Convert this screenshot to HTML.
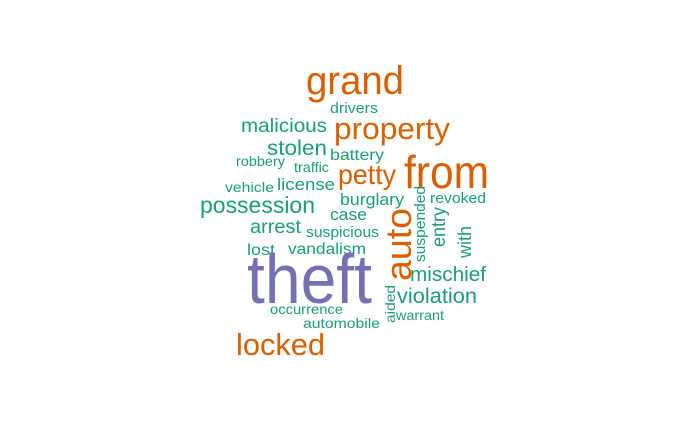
<!DOCTYPE html>
<html><head><meta charset="utf-8"><style>
html,body{margin:0;padding:0;background:#fff;}
svg{display:block;font-family:"Liberation Sans",Arial,sans-serif;}
</style></head><body>
<svg width="700" height="432" viewBox="0 0 700 432">
<g id="words"></g>
</svg>
<script>
const words=["grand","drivers","malicious","property","stolen","battery","robbery","traffic","petty","from","vehicle","license","possession","burglary","revoked","case","arrest","suspicious","lost","vandalism","theft","mischief","violation","occurrence","warrant","automobile","locked","suspended","entry","auto","with","aided"];
const sizes=[40,15,19,31,21,16,14,14,28,46,14,17,23,17,15,17,19,15,16,16,70,20,21,14,14,14,31,15,19,36,18,14];
const colors=["#D95F02","#1B9E77","#1B9E77","#D95F02","#1B9E77","#1B9E77","#1B9E77","#1B9E77","#D95F02","#D95F02","#1B9E77","#1B9E77","#1B9E77","#1B9E77","#1B9E77","#1B9E77","#1B9E77","#1B9E77","#1B9E77","#1B9E77","#7570B3","#1B9E77","#1B9E77","#1B9E77","#1B9E77","#1B9E77","#D95F02","#1B9E77","#1B9E77","#D95F02","#1B9E77","#1B9E77"];
// layout: [x, y, length, rotated]
const layout=[[306,94,98,0],[330,113,48,0],[241,132,86,0],[334,139,116,0],[267,155,60,0],[330,160,54,0],[236,166,49,0],[294,172,35,0],[338,184,58,0],[404,188,85,0],[225,192,49,0],[277,190,58,0],[200,213,115,0],[340,205,64,0],[430,203,56,0],[330,220,37,0],[250,233,51,0],[306,237,73,0],[247,255,28,0],[288,254,78,0],[247,303,125,0],[410,281,76,0],[397,303,80,0],[270,314,73,0],[396,320,48,0],[303,328,77,0],[236,355,89,0],[425,262,76,1],[445,247,40,1],[411,281,73,1],[471,258,32,1],[395,323,38,1]];
const g=document.getElementById('words');
words.forEach((w,i)=>{
  const t=document.createElementNS('http://www.w3.org/2000/svg','text');
  const [x,y,len,rot]=layout[i];
  t.setAttribute('font-size',sizes[i]);
  t.setAttribute('fill',colors[i]);
  t.setAttribute('textLength',len);
  t.setAttribute('lengthAdjust','spacingAndGlyphs');
  if(rot){t.setAttribute('x',0);t.setAttribute('y',0);t.setAttribute('transform','translate('+x+','+y+') rotate(-90)');}
  else{t.setAttribute('x',x);t.setAttribute('y',y);}
  t.textContent=w;
  
  
  g.appendChild(t);
});
</script>
</body></html>
